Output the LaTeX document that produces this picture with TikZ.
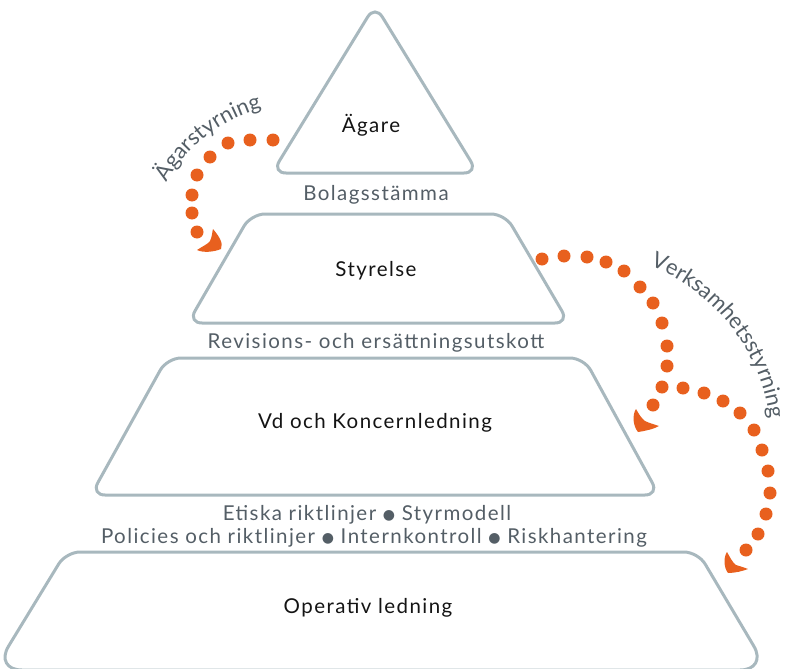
\documentclass[tikz,border=0pt]{standalone}
\usepackage{fontspec}
\setmainfont{Lato}[LetterSpace=7]
\newfontfamily\dejavu{DejaVu Sans}
\usetikzlibrary{decorations.text}
\definecolor{lineblue}{RGB}{168,184,190}
\definecolor{orng}{RGB}{232,96,30}
\definecolor{txtgray}{RGB}{84,94,102}
\definecolor{txtblack}{RGB}{20,20,20}
\newcommand{\bul}{\raisebox{0.5pt}{\dejavu\fontsize{14}{14}\selectfont ●}}
\begin{document}
\begin{tikzpicture}[x=1pt,y=1pt,
  level/.style={draw=lineblue, line width=3pt, rounded corners=14pt},
  lbl/.style={font=\fontsize{20.5}{22}\selectfont, text=txtblack, inner sep=0pt, anchor=base},
  sub/.style={font=\fontsize{20.5}{22}\selectfont, text=txtgray, inner sep=0pt, anchor=base},
  dot/.style={fill=orng},
  tiphead/.style={fill=orng}]
\useasboundingbox (0,0) rectangle (787,-669);

% levels
\draw[level] (375,-173) -- (478,-173) -- (375,-5) -- (272,-173) -- cycle;
\draw[level] (378,-214) -- (505,-214) -- (569,-323) -- (188,-323) -- (251,-214) -- cycle;
\draw[level] (375,-358) -- (584,-358) -- (659,-495) -- (91,-495) -- (167,-358) -- cycle;
\draw[level] (380,-552) -- (698,-552) [rounded corners=28pt] -- (768,-670) -- (-6,-670) [rounded corners=14pt] -- (66,-552) -- cycle;

% texts
\node[lbl] (agare) at (371,-132) {Ägare};
\node[sub] (bolag) at (376,-200) {Bolagsstämma};
\node[lbl] (styr) at (376,-276) {Styrelse};
\node[sub] (rev) at (376,-348) {Revisions- och ersättningsutskott};
\node[lbl] (vd) at (375,-428) {Vd och Koncernledning};
\node[sub] (etik) at (367,-520) {Etiska riktlinjer \bul{} Styrmodell};
\node[sub] (pol) at (374,-543) {Policies och riktlinjer \bul{} Internkontroll \bul{} Riskhantering};
\node[lbl] (oper) at (368,-613) {Operativ ledning};

% arc labels
\path[decorate, decoration={text along path, text align=center,
  text={|\fontsize{22}{22}\selectfont\color{txtgray}|Ägarstyrning}}]
  (303,-259) ++(162:156) arc[start angle=162, end angle=94, radius=156];
\path[decorate, decoration={text along path, text align=center,
  text={|\fontsize{22}{22}\selectfont\color{txtgray}|Verksamhetsstyrning}}]
  (581,-443) ++(80:190) arc[start angle=80, end angle=-4, radius=190];

% dots: Ägarstyrning
\foreach \x/\y in {273/140,250/140,228/143,210/157,197/175,192/195,192/213,197/232}
  \fill[dot] (\x,-\y) circle (6.5);
% dots: Verksamhetsstyrning arc 1
\foreach \x/\y in {542/259,564/256,587/257,606/262,624/271,640/287,653/303,662/323,667/346,667/366,662/387,653/405}
  \fill[dot] (\x,-\y) circle (6.5);
% dots: arc 2
\foreach \x/\y in {683/388,704/393,723/401,740/413,754/430,762/450,768/471,770/493,766/514,758/534,746/550}
  \fill[dot] (\x,-\y) circle (6.5);

% arrow heads
\fill[tiphead] (213,-229) .. controls (218,-235) and (224,-243) .. (221,-249)
  .. controls (214,-252) and (203,-253) .. (197,-250)
  .. controls (203,-246) and (208,-244) .. (210,-241)
  .. controls (212,-237) and (212,-233) .. (213,-229) -- cycle;
\fill[tiphead] (636,-409) .. controls (632,-415) and (633,-426) .. (638,-432)
  .. controls (645,-431) and (654,-429) .. (659,-426)
  .. controls (653,-424) and (649,-423) .. (645,-421)
  .. controls (641,-418) and (639,-414) .. (636,-409) -- cycle;
\fill[tiphead] (727,-552) .. controls (723,-558) and (724,-568) .. (728,-573)
  .. controls (735,-573) and (743,-571) .. (748,-569)
  .. controls (743,-567) and (739,-566) .. (736,-565)
  .. controls (732,-562) and (730,-557) .. (727,-552) -- cycle;
\end{tikzpicture}
\end{document}
